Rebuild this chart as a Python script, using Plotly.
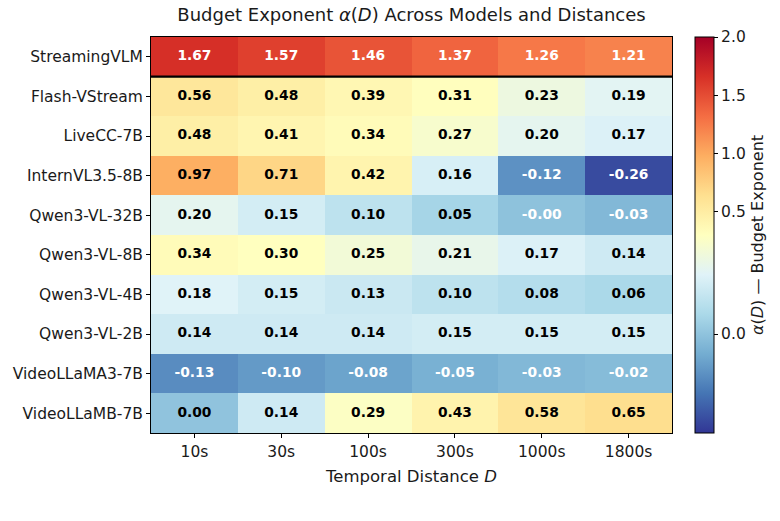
import plotly.graph_objects as go

models = ["StreamingVLM", "Flash-VStream", "LiveCC-7B", "InternVL3.5-8B", "Qwen3-VL-32B",
          "Qwen3-VL-8B", "Qwen3-VL-4B", "Qwen3-VL-2B", "VideoLLaMA3-7B", "VideoLLaMB-7B"]
distances = ["10s", "30s", "100s", "300s", "1000s", "1800s"]

streamingvlm = [1.67, 1.57, 1.46, 1.37, 1.26, 1.21]
flash_vstream = [0.56, 0.48, 0.39, 0.31, 0.23, 0.19]
livecc_7b = [0.48, 0.41, 0.34, 0.27, 0.20, 0.17]
internvl35_8b = [0.97, 0.71, 0.42, 0.16, -0.12, -0.26]
qwen3_vl_32b = [0.20, 0.15, 0.10, 0.05, -0.004, -0.03]
qwen3_vl_8b = [0.34, 0.30, 0.25, 0.21, 0.17, 0.14]
qwen3_vl_4b = [0.18, 0.15, 0.13, 0.10, 0.08, 0.06]
qwen3_vl_2b = [0.14, 0.14, 0.14, 0.15, 0.15, 0.15]
videollama3_7b = [-0.13, -0.10, -0.08, -0.05, -0.03, -0.02]
videollamb_7b = [0.00, 0.14, 0.29, 0.43, 0.58, 0.65]

values = [streamingvlm, flash_vstream, livecc_7b, internvl35_8b, qwen3_vl_32b,
          qwen3_vl_8b, qwen3_vl_4b, qwen3_vl_2b, videollama3_7b, videollamb_7b]

cbar_ticks = [0.0, 0.5, 1.0, 1.5, 2.0]

VMIN, VCENTER, VMAX = -0.3, 0.3, 2.0


def norm(v):
    if v <= VCENTER:
        return 0.5 * (v - VMIN) / (VCENTER - VMIN)
    return 0.5 + 0.5 * (v - VCENTER) / (VMAX - VCENTER)


znorm = [[norm(v) for v in row] for row in values]

FONT = "DejaVu Sans"

fig = go.Figure()
fig.add_trace(go.Heatmap(
    z=znorm, x=distances, y=models, customdata=values,
    colorscale="RdYlBu_r", zmin=0, zmax=1,
    hovertemplate="%{y} @ %{x}: %{customdata:.2f}<extra></extra>",
    colorbar=dict(
        x=(695 - 151) / 521, xanchor="left", xpad=0,
        y=0.5, yanchor="middle", ypad=0,
        len=1, lenmode="fraction", thickness=19, thicknessmode="pixels",
        outlinewidth=1, outlinecolor="black",
        tickvals=[norm(t) for t in cbar_ticks],
        ticktext=[f"{t:.1f}" for t in cbar_ticks],
        ticks="outside", ticklen=4, tickcolor="black",
        tickfont=dict(family=FONT, size=15.5, color="#1a1a1a"),
        title=dict(text="<i>α</i>(<i>D</i>) — Budget Exponent", side="right",
                   font=dict(family=FONT, size=16, color="#1a1a1a")),
    ),
))

tx, ty, tt, tc = [], [], [], []
for m, row in zip(models, values):
    for d, v in zip(distances, row):
        tx.append(d)
        ty.append(m)
        tt.append(f"{v:.2f}")
        tc.append("white" if (v < 0 or v > 1.0) else "black")

fig.add_trace(go.Scatter(
    x=tx, y=ty, text=tt, mode="text", hoverinfo="skip", showlegend=False,
    textfont=dict(family=FONT, size=13.8, color=tc, weight="bold"),
))

fig.add_shape(type="line", xref="x domain", yref="y", x0=0, x1=1, y0=0.5, y1=0.5,
              line=dict(color="black", width=2.2))

fig.update_layout(
    width=780, height=521,
    margin=dict(l=151, r=108, t=37, b=88),
    paper_bgcolor="white", plot_bgcolor="white",
    font=dict(family=FONT, color="#1a1a1a"),
    title=dict(text="Budget Exponent <i>α</i>(<i>D</i>) Across Models and Distances",
               x=(151 + 672) / 2 / 780, xanchor="center", y=1 - 15 / 521, yanchor="middle",
               font=dict(family=FONT, size=18, color="#1a1a1a")),
    xaxis=dict(
        type="category", categoryorder="array", categoryarray=distances,
        showline=True, linecolor="black", linewidth=1, mirror=True,
        ticks="outside", ticklen=4, tickcolor="black",
        tickfont=dict(family=FONT, size=15.5, color="#1a1a1a"),
        title=dict(text="Temporal Distance <i>D</i>", standoff=10,
                   font=dict(family=FONT, size=16.5, color="#1a1a1a")),
        showgrid=False, zeroline=False,
    ),
    yaxis=dict(
        type="category", categoryorder="array", categoryarray=models, autorange="reversed",
        showline=True, linecolor="black", linewidth=1, mirror=True,
        ticks="outside", ticklen=4, tickcolor="black",
        tickfont=dict(family=FONT, size=15.5, color="#1a1a1a"),
        showgrid=False, zeroline=False,
    ),
)

fig.write_html("out.html")
